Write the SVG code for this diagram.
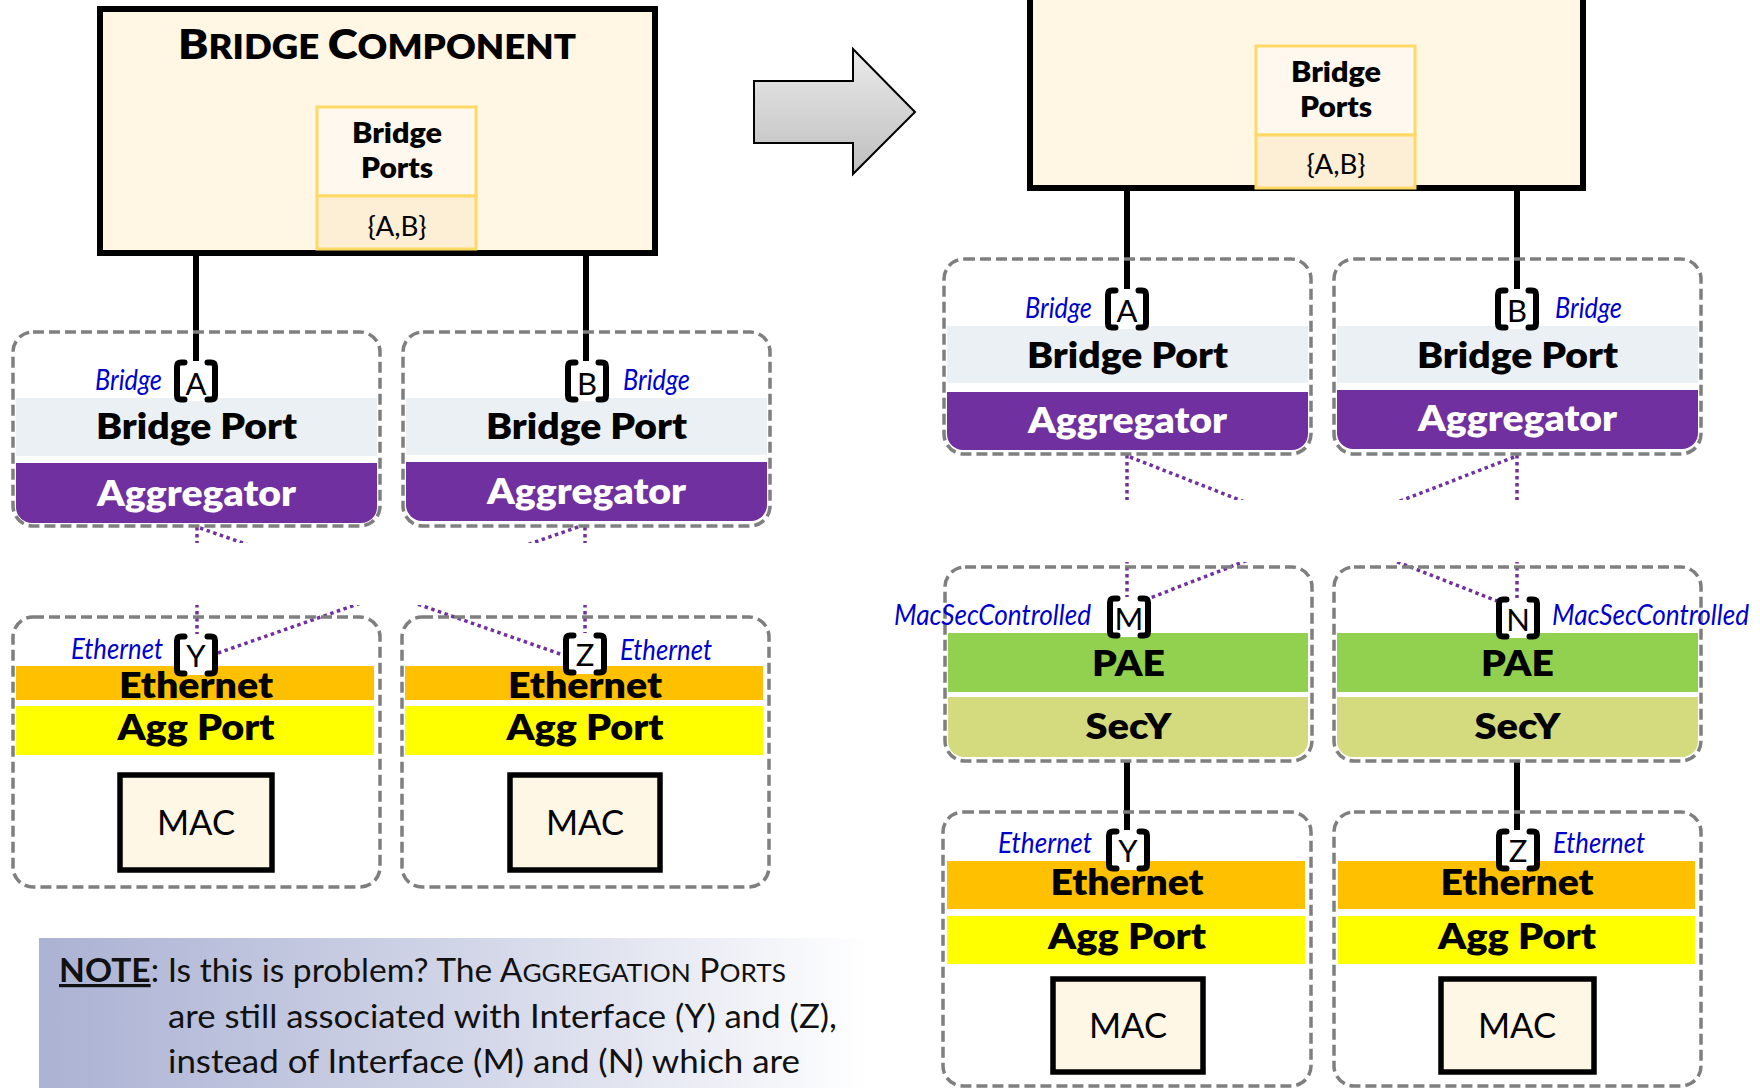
<svg xmlns="http://www.w3.org/2000/svg" xmlns:xlink="http://www.w3.org/1999/xlink" width="1760" height="1088" viewBox="0 0 1760 1088">
<defs>
<style>
.dbox{fill:none;stroke:#7F7F7F;stroke-width:3.5;stroke-dasharray:11 5;}
.bp{fill:#EBF0F4;}
.agg{fill:#7030A0;}
.eth{fill:#FFC000;}
.ap{fill:#FFFF00;}
.pae{fill:#92D050;}
.secy{fill:#D3DB7E;}
.mac{fill:#FFF7E6;stroke:#000;stroke-width:5.5;}
.big{fill:#FFF7E4;stroke:#000;stroke-width:6;}
.pt{fill:#FFF8EE;stroke:#FFD966;stroke-width:3;}
.pb{fill:#FDEFD5;stroke:#FFD966;stroke-width:3;}
.lbl{font-family:Lato,'Open Sans',sans-serif;font-weight:800;font-size:35px;text-anchor:middle;fill:#000;}
.w{fill:#FFFFFF;}
.sm{font-family:Lato,'Open Sans',sans-serif;font-weight:800;font-size:28px;text-anchor:middle;fill:#000;}
.reg{font-family:Lato,'Open Sans',sans-serif;font-size:27px;text-anchor:middle;fill:#000;}
.macT{font-family:Lato,'Open Sans',sans-serif;font-size:34px;text-anchor:middle;fill:#000;}
.it{font-family:Lato,'Open Sans',sans-serif;font-style:italic;font-size:28px;fill:#0000CC;}
.let{font-family:Lato,'Open Sans',sans-serif;font-size:31px;text-anchor:middle;fill:#000;}
.solid{stroke:#000;stroke-width:6;fill:none;}
.dot{stroke:#7030A0;stroke-width:3.5;stroke-dasharray:3.5 3.5;fill:none;}
.note{font-family:Lato,'Open Sans',sans-serif;font-size:32px;fill:#111;}
</style>
<g id="brk">
<rect x="4" y="1" width="36" height="40" fill="#FFFFFF"/>
<path d="M10.5 2.5 H7 Q3 2.5 3 6.5 V35.5 Q3 39.5 7 39.5 H10.5" fill="none" stroke="#000" stroke-width="6" stroke-linecap="round"/>
<path d="M33.5 2.5 H37 Q41 2.5 41 6.5 V35.5 Q41 39.5 37 39.5 H33.5" fill="none" stroke="#000" stroke-width="6" stroke-linecap="round"/>
</g>
<linearGradient id="arrowGrad" x1="0" y1="0" x2="0" y2="1">
<stop offset="0" stop-color="#EBEBEB"/>
<stop offset="1" stop-color="#BEBEBE"/>
</linearGradient>
<linearGradient id="noteGrad" x1="0" y1="0" x2="1" y2="0">
<stop offset="0" stop-color="#ABB2D3"/>
<stop offset="0.55" stop-color="#D4D8E9"/>
<stop offset="1" stop-color="#FFFFFF"/>
</linearGradient>
<clipPath id="clipL">
<rect x="0" y="0" width="880" height="543"/>
<rect x="0" y="605" width="880" height="500"/>
</clipPath>
<clipPath id="clipR">
<rect x="880" y="0" width="880" height="500"/>
<rect x="880" y="562" width="880" height="600"/>
</clipPath>
</defs>

<rect x="0" y="0" width="1760" height="1088" fill="#FFFFFF"/>

<!-- connectors -->
<g id="connectors">
<line class="solid" x1="196" y1="253" x2="196" y2="362"/>
<line class="solid" x1="586" y1="253" x2="586" y2="362"/>
<line class="solid" x1="1127" y1="188" x2="1127" y2="290"/>
<line class="solid" x1="1517" y1="188" x2="1517" y2="290"/>
<line class="solid" x1="1127" y1="761" x2="1127" y2="831"/>
<line class="solid" x1="1517" y1="761" x2="1517" y2="831"/>
<g clip-path="url(#clipL)">
<line class="dot" x1="197" y1="527" x2="197" y2="634"/>
<line class="dot" x1="200" y1="528" x2="563" y2="655"/>
<line class="dot" x1="585" y1="527" x2="585" y2="633"/>
<line class="dot" x1="578" y1="527" x2="218" y2="653"/>
</g>
<g clip-path="url(#clipR)">
<line class="dot" x1="1127" y1="455" x2="1127" y2="597"/>
<line class="dot" x1="1130" y1="457" x2="1497" y2="601"/>
<line class="dot" x1="1517" y1="455" x2="1517" y2="598"/>
<line class="dot" x1="1514" y1="457" x2="1150" y2="598"/>
</g>
</g>

<!-- left bridge component -->
<g id="bridge-component-left">
<rect class="big" x="100" y="9" width="555" height="244"/>
<text class="lbl" x="377" y="59" textLength="398" lengthAdjust="spacingAndGlyphs"><tspan font-size="41">B</tspan><tspan font-size="33">RIDGE </tspan><tspan font-size="41">C</tspan><tspan font-size="33">OMPONENT</tspan></text>
<rect class="pt" x="317" y="107" width="159" height="89"/>
<rect class="pb" x="317" y="196" width="159" height="53"/>
<text class="sm" x="397" y="143" textLength="90" lengthAdjust="spacingAndGlyphs">Bridge</text>
<text class="sm" x="397" y="178" textLength="72" lengthAdjust="spacingAndGlyphs">Ports</text>
<text class="reg" x="397" y="236" textLength="59" lengthAdjust="spacingAndGlyphs">{A,B}</text>
</g>

<!-- arrow -->
<g id="arrow">
<polygon points="754,81 853,81 853,49 915,112 853,174 853,143 754,143" fill="url(#arrowGrad)" stroke="#000" stroke-width="2"/>
</g>

<!-- right bridge component -->
<g id="bridge-component-right">
<rect class="big" x="1030" y="-20" width="553" height="208"/>
<rect class="pt" x="1256" y="46" width="159" height="89"/>
<rect class="pb" x="1256" y="135" width="159" height="53"/>
<text class="sm" x="1336" y="82" textLength="90" lengthAdjust="spacingAndGlyphs">Bridge</text>
<text class="sm" x="1336" y="117" textLength="72" lengthAdjust="spacingAndGlyphs">Ports</text>
<text class="reg" x="1336" y="174" textLength="59" lengthAdjust="spacingAndGlyphs">{A,B}</text>
</g>

<!-- left top A -->
<g id="left-bridge-port-A">
<rect class="bp" x="16" y="398" width="361" height="58"/>
<path class="agg" d="M16 463 H377 V507 A16 16 0 0 1 361 523 H32 A16 16 0 0 1 16 507 Z"/>
<rect class="dbox" x="13" y="332" width="367" height="194" rx="20"/>
<text class="lbl" x="196.5" y="439" textLength="201" lengthAdjust="spacingAndGlyphs">Bridge Port</text>
<text class="lbl w" x="196.5" y="506" textLength="199" lengthAdjust="spacingAndGlyphs">Aggregator</text>
<use xlink:href="#brk" x="174" y="360"/>
<text class="let" x="196" y="395">A</text>
<text class="it" x="162" y="390" text-anchor="end" textLength="67" lengthAdjust="spacingAndGlyphs">Bridge</text>
</g>

<!-- left top B -->
<g id="left-bridge-port-B">
<rect class="bp" x="406" y="398" width="361" height="57"/>
<path class="agg" d="M406 462 H767 V505 A16 16 0 0 1 751 521 H422 A16 16 0 0 1 406 505 Z"/>
<rect class="dbox" x="403" y="332" width="367" height="194" rx="20"/>
<text class="lbl" x="586.5" y="439" textLength="201" lengthAdjust="spacingAndGlyphs">Bridge Port</text>
<text class="lbl w" x="586.5" y="504" textLength="199" lengthAdjust="spacingAndGlyphs">Aggregator</text>
<use xlink:href="#brk" x="565" y="360"/>
<text class="let" x="587" y="395">B</text>
<text class="it" x="623" y="390" textLength="67" lengthAdjust="spacingAndGlyphs">Bridge</text>
</g>

<!-- left bottom Y -->
<g id="left-agg-port-Y">
<rect class="eth" x="16" y="666" width="358" height="34"/>
<rect class="ap" x="16" y="706" width="358" height="49"/>
<rect class="dbox" x="13" y="617" width="367" height="270" rx="20"/>
<text class="lbl" x="196" y="698" textLength="154" lengthAdjust="spacingAndGlyphs">Ethernet</text>
<text class="lbl" x="196" y="740" textLength="157" lengthAdjust="spacingAndGlyphs">Agg Port</text>
<rect class="mac" x="120" y="775" width="152" height="95"/>
<text class="macT" x="196" y="835" textLength="78" lengthAdjust="spacingAndGlyphs">MAC</text>
<use xlink:href="#brk" x="174" y="634"/>
<text class="let" x="196" y="667">Y</text>
<text class="it" x="163" y="659" text-anchor="end" textLength="92" lengthAdjust="spacingAndGlyphs">Ethernet</text>
</g>

<!-- left bottom Z -->
<g id="left-agg-port-Z">
<rect class="eth" x="405" y="666" width="358" height="34"/>
<rect class="ap" x="405" y="706" width="358" height="49"/>
<rect class="dbox" x="402" y="617" width="367" height="270" rx="20"/>
<text class="lbl" x="585" y="698" textLength="154" lengthAdjust="spacingAndGlyphs">Ethernet</text>
<text class="lbl" x="585" y="740" textLength="157" lengthAdjust="spacingAndGlyphs">Agg Port</text>
<rect class="mac" x="510" y="775" width="150" height="95"/>
<text class="macT" x="585" y="835" textLength="78" lengthAdjust="spacingAndGlyphs">MAC</text>
<use xlink:href="#brk" x="563" y="633"/>
<text class="let" x="585" y="666">Z</text>
<text class="it" x="620" y="660" textLength="92" lengthAdjust="spacingAndGlyphs">Ethernet</text>
</g>

<!-- right top A -->
<g id="right-bridge-port-A">
<rect class="bp" x="947" y="326" width="361" height="57"/>
<path class="agg" d="M947 392 H1308 V434 A16 16 0 0 1 1292 450 H963 A16 16 0 0 1 947 434 Z"/>
<rect class="dbox" x="944" y="259" width="367" height="195" rx="20"/>
<text class="lbl" x="1127.5" y="368" textLength="201" lengthAdjust="spacingAndGlyphs">Bridge Port</text>
<text class="lbl w" x="1127.5" y="433" textLength="199" lengthAdjust="spacingAndGlyphs">Aggregator</text>
<use xlink:href="#brk" x="1105" y="288"/>
<text class="let" x="1127" y="322">A</text>
<text class="it" x="1092" y="318" text-anchor="end" textLength="67" lengthAdjust="spacingAndGlyphs">Bridge</text>
</g>

<!-- right top B -->
<g id="right-bridge-port-B">
<rect class="bp" x="1337" y="326" width="361" height="57"/>
<path class="agg" d="M1337 390 H1698 V433 A16 16 0 0 1 1682 449 H1353 A16 16 0 0 1 1337 433 Z"/>
<rect class="dbox" x="1334" y="259" width="367" height="195" rx="20"/>
<text class="lbl" x="1517.5" y="368" textLength="201" lengthAdjust="spacingAndGlyphs">Bridge Port</text>
<text class="lbl w" x="1517.5" y="431" textLength="199" lengthAdjust="spacingAndGlyphs">Aggregator</text>
<use xlink:href="#brk" x="1495" y="288"/>
<text class="let" x="1517" y="322">B</text>
<text class="it" x="1555" y="318" textLength="67" lengthAdjust="spacingAndGlyphs">Bridge</text>
</g>

<!-- right middle M -->
<g id="right-macsec-M">
<rect class="pae" x="948" y="633" width="360" height="59"/>
<path class="secy" d="M948 697 H1308 V741 A16 16 0 0 1 1292 757 H964 A16 16 0 0 1 948 741 Z"/>
<rect class="dbox" x="945" y="567" width="367" height="194" rx="20"/>
<text class="lbl" x="1128.5" y="676" textLength="73" lengthAdjust="spacingAndGlyphs">PAE</text>
<text class="lbl" x="1128.5" y="739" textLength="86" lengthAdjust="spacingAndGlyphs">SecY</text>
<use xlink:href="#brk" x="1107" y="596"/>
<text class="let" x="1129" y="630">M</text>
<text class="it" x="1091" y="625" text-anchor="end" textLength="197" lengthAdjust="spacingAndGlyphs">MacSecControlled</text>
</g>

<!-- right middle N -->
<g id="right-macsec-N">
<rect class="pae" x="1337" y="633" width="361" height="59"/>
<path class="secy" d="M1337 697 H1698 V741 A16 16 0 0 1 1682 757 H1353 A16 16 0 0 1 1337 741 Z"/>
<rect class="dbox" x="1334" y="567" width="367" height="194" rx="20"/>
<text class="lbl" x="1517.5" y="676" textLength="73" lengthAdjust="spacingAndGlyphs">PAE</text>
<text class="lbl" x="1517.5" y="739" textLength="86" lengthAdjust="spacingAndGlyphs">SecY</text>
<use xlink:href="#brk" x="1496" y="597"/>
<text class="let" x="1518" y="631">N</text>
<text class="it" x="1552" y="625" textLength="197" lengthAdjust="spacingAndGlyphs">MacSecControlled</text>
</g>

<!-- right bottom Y -->
<g id="right-agg-port-Y">
<rect class="eth" x="947" y="861" width="358" height="48"/>
<rect class="ap" x="947" y="916" width="358" height="48"/>
<rect class="dbox" x="943" y="812" width="368" height="274" rx="20"/>
<text class="lbl" x="1127" y="895" textLength="153" lengthAdjust="spacingAndGlyphs">Ethernet</text>
<text class="lbl" x="1127" y="949" textLength="158" lengthAdjust="spacingAndGlyphs">Agg Port</text>
<rect class="mac" x="1053" y="979" width="150" height="93"/>
<text class="macT" x="1128" y="1038" textLength="78" lengthAdjust="spacingAndGlyphs">MAC</text>
<use xlink:href="#brk" x="1106" y="829"/>
<text class="let" x="1128" y="862">Y</text>
<text class="it" x="1092" y="853" text-anchor="end" textLength="94" lengthAdjust="spacingAndGlyphs">Ethernet</text>
</g>

<!-- right bottom Z -->
<g id="right-agg-port-Z">
<rect class="eth" x="1338" y="861" width="357" height="48"/>
<rect class="ap" x="1338" y="916" width="357" height="48"/>
<rect class="dbox" x="1334" y="812" width="367" height="274" rx="20"/>
<text class="lbl" x="1517" y="895" textLength="153" lengthAdjust="spacingAndGlyphs">Ethernet</text>
<text class="lbl" x="1517" y="949" textLength="158" lengthAdjust="spacingAndGlyphs">Agg Port</text>
<rect class="mac" x="1441" y="979" width="153" height="93"/>
<text class="macT" x="1517" y="1038" textLength="78" lengthAdjust="spacingAndGlyphs">MAC</text>
<use xlink:href="#brk" x="1496" y="829"/>
<text class="let" x="1518" y="862">Z</text>
<text class="it" x="1553" y="853" textLength="92" lengthAdjust="spacingAndGlyphs">Ethernet</text>
</g>

<!-- note -->
<g id="note">
<rect x="39" y="938" width="831" height="150" fill="url(#noteGrad)"/>
<text class="note" x="59" y="982" textLength="727" lengthAdjust="spacingAndGlyphs"><tspan font-weight="bold" text-decoration="underline">NOTE</tspan>: Is this is problem? The A<tspan font-size="25">GGREGATION</tspan> P<tspan font-size="25">ORTS</tspan></text>
<text class="note" x="168" y="1028" textLength="669" lengthAdjust="spacingAndGlyphs">are still associated with Interface (Y) and (Z),</text>
<text class="note" x="168" y="1073" textLength="632" lengthAdjust="spacingAndGlyphs">instead of Interface (M) and (N) which are</text>
</g>
</svg>
